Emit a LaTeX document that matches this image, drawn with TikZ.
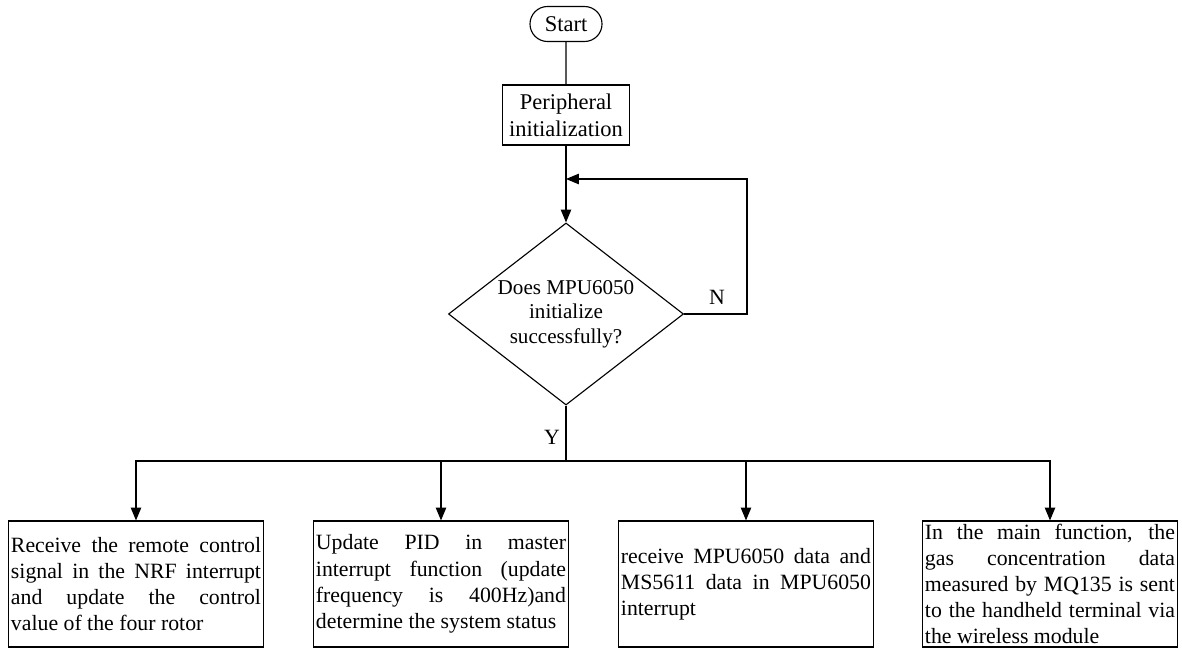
\documentclass[tikz,border=0pt]{standalone}
\usepackage{fontspec}
\setmainfont{Liberation Serif}
\usetikzlibrary{shapes.geometric,shapes.misc,arrows.meta}
\begin{document}
\begin{tikzpicture}[x=0.025cm, y=-0.025cm, line width=0.8pt,
  font=\fontsize{15.5}{18.6}\selectfont,
  arr/.style={-{Triangle[length=3.2mm,width=2.6mm]}},
  term/.style={draw, rounded rectangle, minimum width=1.8cm, minimum height=0.875cm, inner sep=0pt, font=\fontsize{16}{19}\selectfont},
  proc/.style={draw, rectangle, minimum width=3.175cm, minimum height=1.5cm, align=center, inner sep=0pt, font=\fontsize{16}{19}\selectfont},
  dec/.style={draw, diamond, shape aspect=1.29, minimum width=5.875cm, minimum height=4.55cm, inner sep=0pt, align=center, font=\fontsize{15}{17.5}\selectfont},
  task/.style={draw, rectangle, minimum width=6.375cm, minimum height=3.15cm, text width=6.25cm, inner xsep=0.6mm, inner ysep=0.2mm, align=justify}]
\useasboundingbox (0,0) rectangle (1182,650);
\node[term] (start) at (566,24) {Start};
\node[proc] (init) at (566,115) {Peripheral\\initialization};
\node[dec] (check) at (566,314) {Does MPU6050\\initialize\\successfully?};
\node[task] (nrf) at (136,584) {Receive the remote control\linebreak signal in the NRF interrupt\linebreak and update the control\linebreak value of the four rotor};
\node[task] (pid) at (441,584) {Update PID in master\linebreak interrupt function (update\linebreak frequency is 400Hz)and\linebreak determine the system status};
\node[task] (imu) at (746,584) {receive MPU6050 data and\linebreak MS5611 data in MPU6050\linebreak interrupt};
\node[task] (gas) at (1050,584) {In the main function, the\linebreak gas concentration data\linebreak measured by MQ135 is sent\linebreak to the handheld terminal via\linebreak the wireless module};
\coordinate (loop) at (747,179);
\coordinate (merge) at (566,179);
\coordinate (bus) at (566,461);
% main flow
\draw (start) -- (init);
\draw[arr] (init) -- (check);
\draw[arr] (check.east) -| (loop) -- (merge);
\draw (check) -- (bus);
\draw[arr] (bus) -| (nrf.north);
\draw[arr] (bus) -| (pid.north);
\draw[arr] (bus) -| (imu.north);
\draw[arr] (bus) -| (gas.north);
% branch labels
\node (nlab) at (717,297) {N};
\node (ylab) at (552,437) {Y};
\end{tikzpicture}
\end{document}
